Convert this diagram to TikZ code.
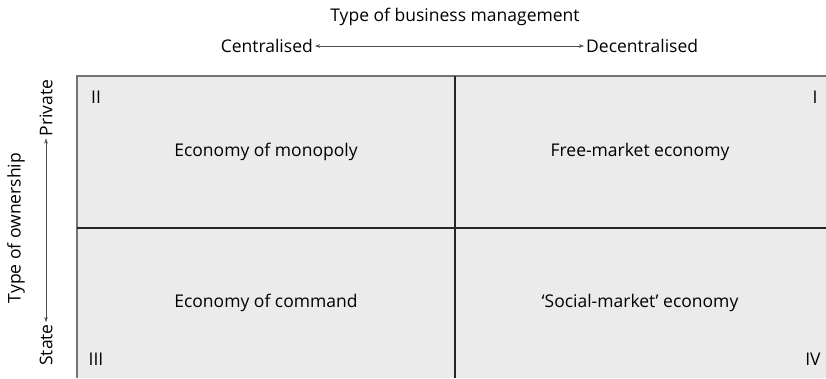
\documentclass[tikz,border=0pt]{standalone}
\usepackage{fontspec}
\setmainfont{Open Sans}
\usetikzlibrary{arrows.meta}

\begin{document}
\begin{tikzpicture}[x=1pt,y=-1pt,
    font=\fontsize{17.5}{21}\selectfont,
    >={Stealth[length=5pt,width=3.5pt]}]
        \useasboundingbox (0,0) rectangle (826,378);
        % grid
        \fill[black!8] (77,76) rectangle (826,378);
        \draw[black!55, line width=1.3pt] (77,378) -- (77,76) -- (826,76);
        \draw[black!85, line width=1.3pt] (455,76) -- (455,378);
        \draw[black!85, line width=1.3pt] (77,228) -- (826,228);
        % axis labels
        \node (mgmt) at (455,17) {Type of business management};
        \node[anchor=east, inner sep=2pt] (central) at (315,46) {Centralised};
        \node[anchor=west, inner sep=2pt] (decentral) at (584,46) {Decentralised};
        \draw[<->, black!70] (central) -- (decentral);
        \node[rotate=90] (owner) at (16,228) {Type of ownership};
        \node[rotate=90, inner sep=2pt] (private) at (46,108) {Private};
        \node[rotate=90, inner sep=2pt] (state) at (46,345) {State};
        \draw[<->, black!70] (private) -- (state);
        % quadrants
        \node (monopoly) at (266,152) {Economy of monopoly};
        \node (freemkt) at (640,152) {Free-market economy};
        \node (command) at (266,303) {Economy of command};
        \node (socialmkt) at (640,303) {`Social-market' economy};
        \node (q2) at (96,97) {II};
        \node (q1) at (815,97) {I};
        \node (q3) at (96,359) {III};
        \node (q4) at (813,359) {IV};
    \end{tikzpicture}
\end{document}
